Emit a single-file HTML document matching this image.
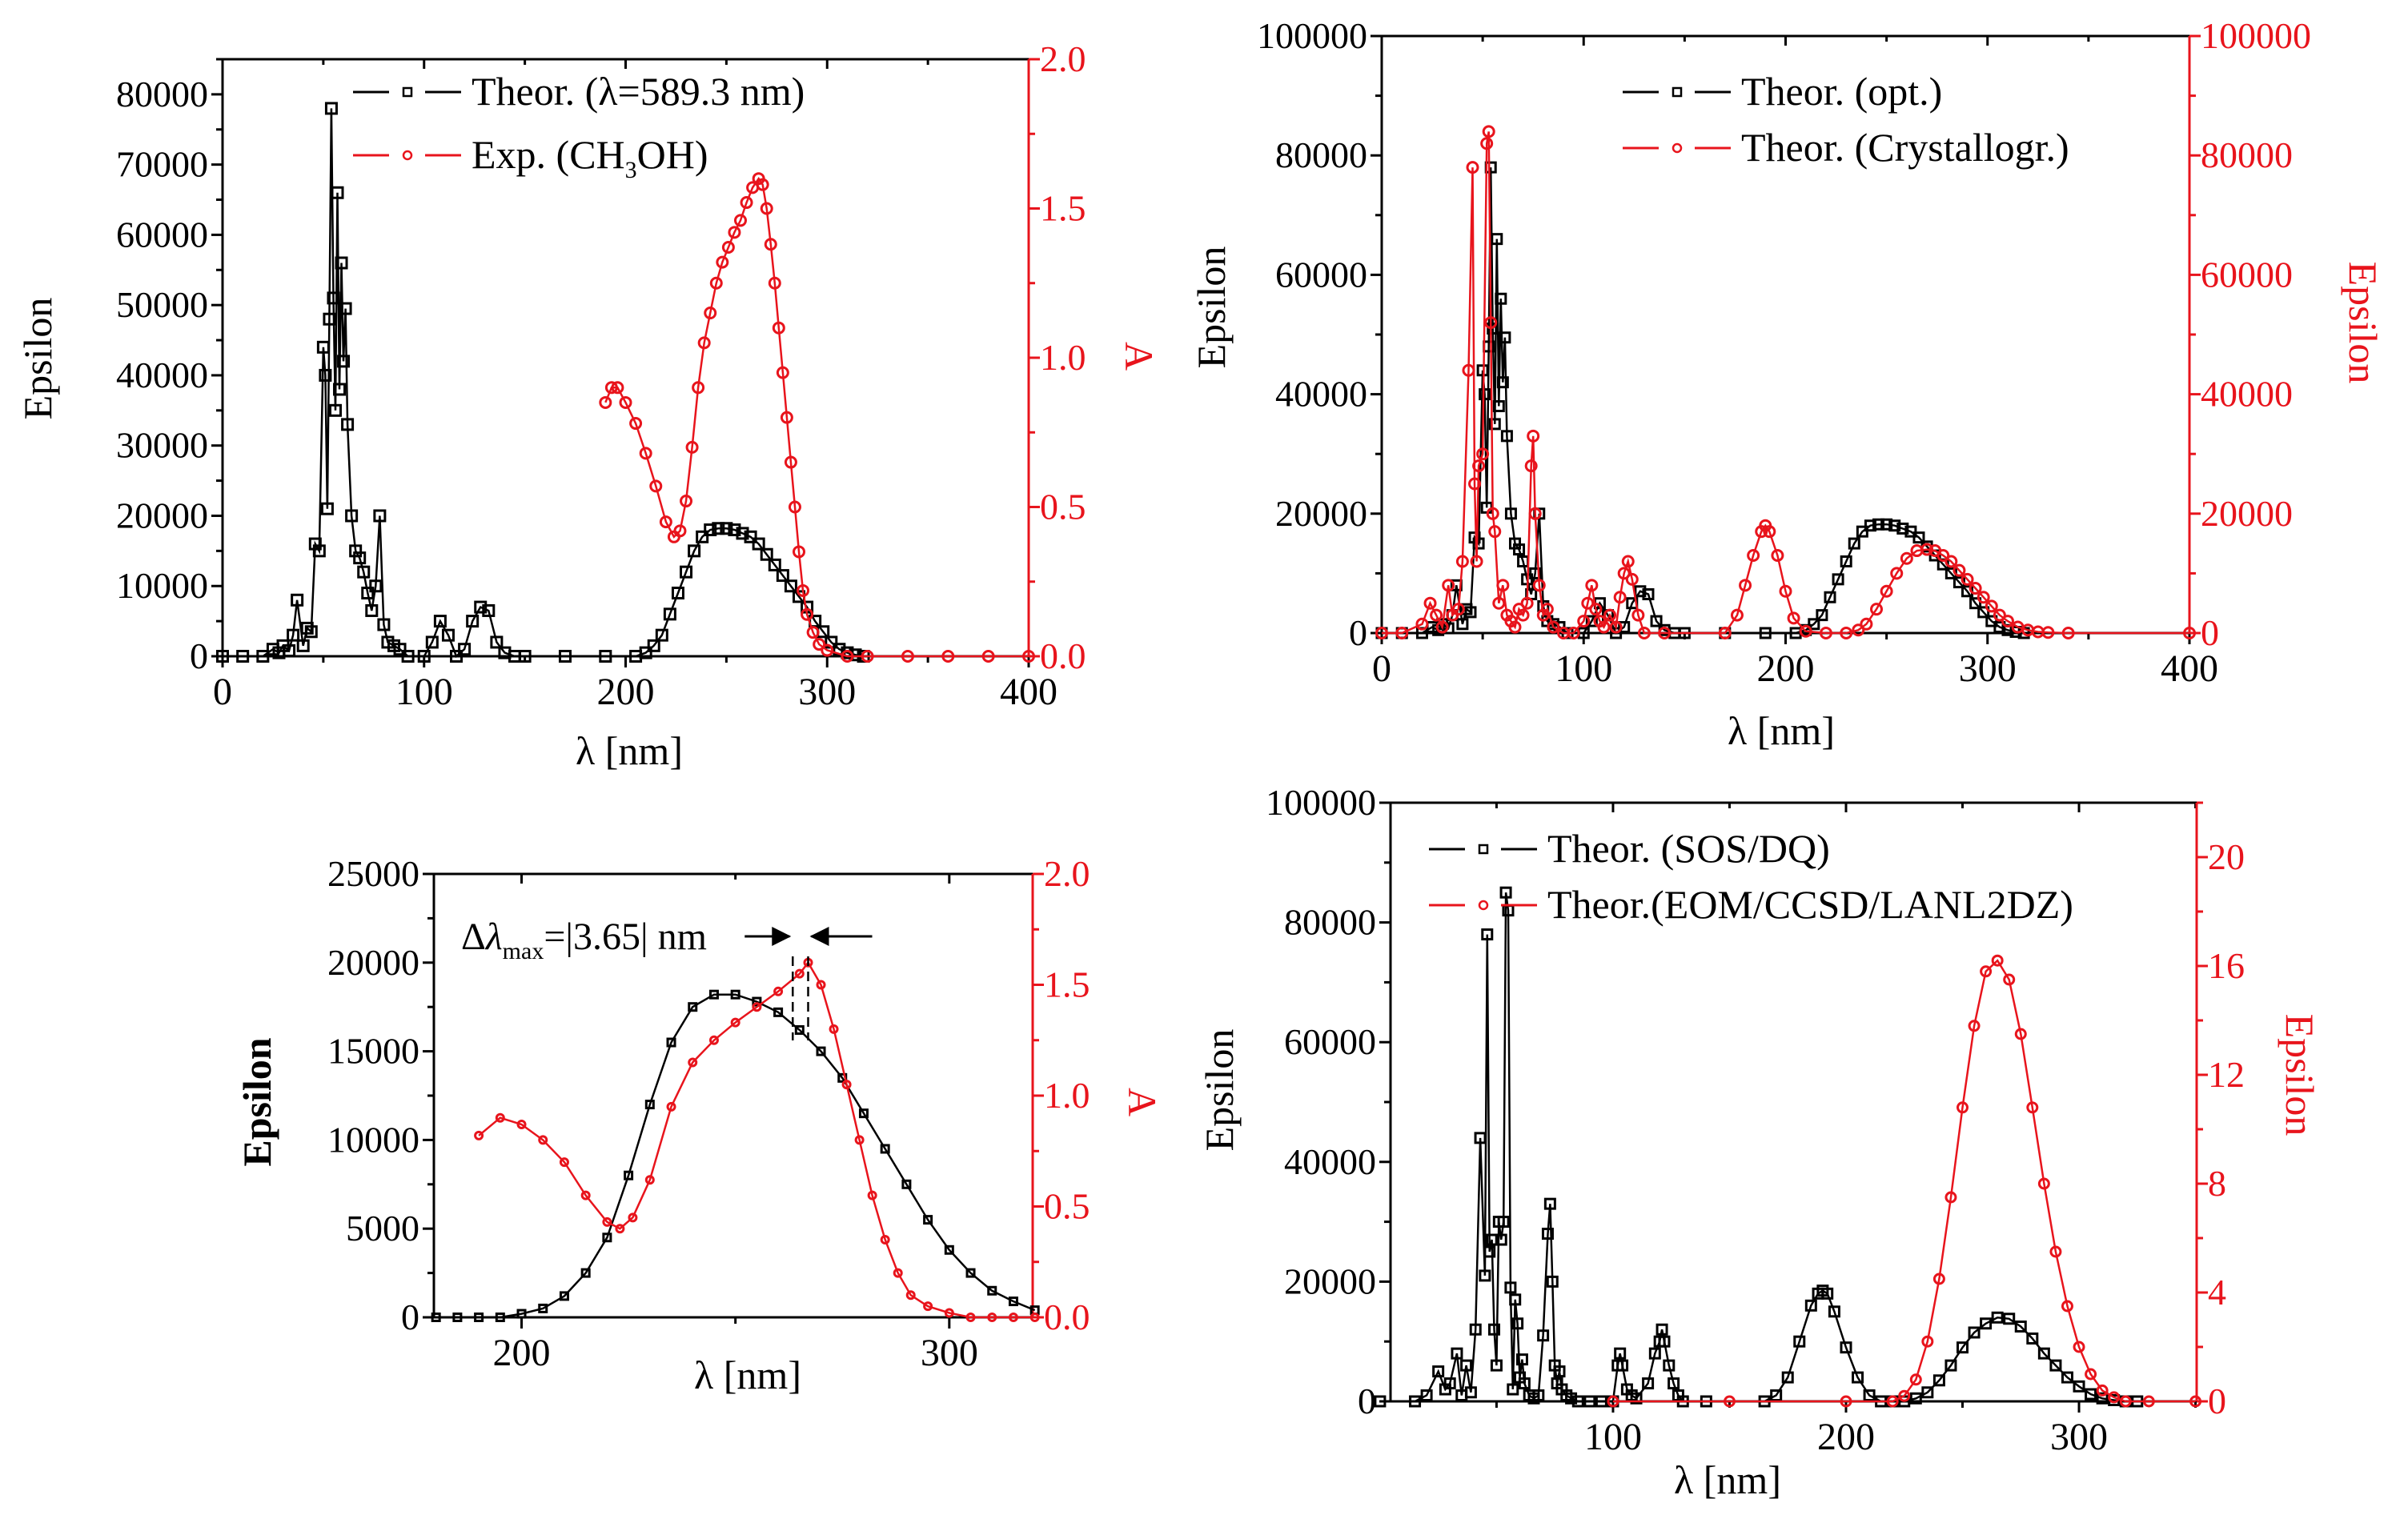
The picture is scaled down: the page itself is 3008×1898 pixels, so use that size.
<!DOCTYPE html>
<html><head><meta charset="utf-8"><style>
html,body{margin:0;padding:0;background:#fff;}
svg{display:block;}
svg text{font-family:"Liberation Serif","DejaVu Serif",serif;}
</style></head><body>
<svg id="fig" xmlns="http://www.w3.org/2000/svg" width="3008" height="1898" viewBox="0 0 3008 1898" font-family="Liberation Serif, serif"></svg>
<script>
// ---------- DATA ----------
const thAWl=[0,10,20,25,28,30,33,35,37,40,42,44,46,48,50,51,52,53,54,55,56,57,58,59,60,61,62,64,66,68,70,72,74,76,78,80,82,85,88,92,100,104,108,112,116,120,124,128,132,136,140,145,150,170,190,205,210,214,218,222,226,230,234,238,242,246,250,254,258,262,266,270,274,278,282,286,290,294,298,302,306,310,314,318];
const thAEps=[0,0,0,1000,500,1500,800,3000,8000,1500,4000,3500,16000,15000,44000,40000,21000,48000,78000,51000,35000,66000,38000,56000,42000,49500,33000,20000,15000,14000,12000,9000,6500,10000,20000,4500,2000,1500,1000,0,0,2000,5000,3000,0,1000,5000,7000,6500,2000,500,0,0,0,0,0,500,1500,3000,6000,9000,12000,15000,17000,18000,18200,18200,18000,17500,17000,16000,14500,13000,11500,10000,8500,7000,5000,3500,2000,1000,500,200,0];
const expAWl=[190,193,196,200,205,210,215,220,224,227,230,233,236,239,242,245,248,251,254,257,260,263,266,268,270,272,274,276,278,280,282,284,286,288,290,293,296,300,310,320,340,360,380,400];
const expAAbs=[0.85,0.9,0.9,0.85,0.78,0.68,0.57,0.45,0.4,0.42,0.52,0.7,0.9,1.05,1.15,1.25,1.32,1.37,1.42,1.46,1.52,1.57,1.6,1.58,1.5,1.38,1.25,1.1,0.95,0.8,0.65,0.5,0.35,0.22,0.14,0.08,0.04,0.02,0,0,0,0,0,0];
const optBWl=thAWl;
const optBEps=thAEps;
const cryBWl=[0,10,20,24,27,30,33,35,38,40,43,45,46,47,48,50,52,53,54,55,56,58,60,62,64,66,68,70,72,74,75,76,78,80,82,85,90,95,100,102,104,106,108,110,113,116,118,120,122,124,127,130,140,170,176,180,184,188,190,192,196,200,204,210,220,230,236,240,245,250,255,260,265,270,274,278,282,286,290,294,298,302,306,310,315,320,325,330,340,400];
const cryBEps=[0,0,1500,5000,3000,1000,8000,3000,4000,12000,44000,78000,25000,12000,28000,30000,82000,84000,52000,20000,17000,5000,8000,3000,2000,1000,4000,3000,5000,28000,33000,20000,8000,3000,4000,1000,0,0,2000,5000,8000,4000,2000,1000,3000,1000,6000,10000,12000,9000,3000,0,0,0,3000,8000,13000,17000,18000,17000,13000,7000,2500,300,0,0,500,1500,4000,7000,10000,12500,13800,14000,13800,13000,12000,10500,9000,7500,6000,4500,3000,2000,1000,500,200,100,0,0];
const thCWl=[180,185,190,195,200,205,210,215,220,225,230,235,240,245,250,255,260,265,270,275,280,285,290,295,300,305,310,315,320];
const thCEps=[0,0,0,0,200,500,1200,2500,4500,8000,12000,15500,17500,18200,18200,17800,17200,16200,15000,13500,11500,9500,7500,5500,3800,2500,1500,900,400];
const expCWl=[190,195,200,205,210,215,220,223,226,230,235,240,245,250,255,260,265,267,270,273,276,279,282,285,288,291,295,300,305,310,315,320];
const expCAbs=[0.82,0.9,0.87,0.8,0.7,0.55,0.43,0.4,0.45,0.62,0.95,1.15,1.25,1.33,1.4,1.47,1.55,1.6,1.5,1.3,1.05,0.8,0.55,0.35,0.2,0.1,0.05,0.02,0,0,0,0];
const sosDWl=[0,15,20,25,28,30,33,35,37,39,41,43,45,46,47,48,49,50,51,52,53,54,55,56,57,58,59,60,61,62,64,66,68,70,72,73,74,75,76,77,78,80,82,85,90,95,100,102,103,104,106,108,110,115,118,120,121,122,124,126,128,130,140,165,170,175,180,185,188,190,192,195,200,205,210,215,220,225,230,235,240,245,250,255,260,265,270,275,280,285,290,295,300,305,310,315,320,325];
const sosDEps=[0,0,1000,5000,2000,3000,8000,1000,6000,1500,12000,44000,21000,78000,25000,27000,12000,6000,30000,27000,30000,85000,82000,19000,2000,17000,13000,4000,7000,3000,1000,500,1000,11000,28000,33000,20000,6000,3000,5000,2000,1000,500,0,0,0,0,6000,8000,6000,2000,1000,500,3000,8000,10000,12000,10000,6000,3000,1000,0,0,0,1000,4000,10000,16000,18000,18500,18000,15000,9000,4000,1000,0,0,0,500,1500,3500,6000,9000,11500,13000,14000,13800,12500,10500,8000,6000,4000,2500,1200,500,200,0,0];
const eomDWl=[100,150,200,220,225,230,235,240,245,250,255,260,265,270,275,280,285,290,295,300,305,310,315,320,330,350];
const eomDEps=[0,0,0,0,0.2,0.8,2.2,4.5,7.5,10.8,13.8,15.8,16.2,15.5,13.5,10.8,8,5.5,3.5,2,1,0.4,0.15,0,0,0];
const ticksX400=[0,100,200,300,400];
const ticksEpsA=[0,10000,20000,30000,40000,50000,60000,70000,80000];
const ticksAbs=[0,0.5,1.0,1.5,2.0];
const ticksEps100k=[0,20000,40000,60000,80000,100000];
const ticksEpsC=[0,5000,10000,15000,20000,25000];
const ticksXC=[200,300];
const ticksXD=[100,200,300];
const ticksEomD=[0,4,8,12,16,20];

// ---------- HELPERS ----------
const NS='http://www.w3.org/2000/svg';
const FF='Liberation Serif, DejaVu Serif, serif';
const svg=document.getElementById('fig');
function mk(tag,attrs,parent){const e=document.createElementNS(NS,tag);for(const k in attrs)e.setAttribute(k,attrs[k]);if(tag==='text')e.setAttribute('font-family',FF);parent.appendChild(e);return e;}
const RED='#e8141c';

function drawPanel(p){
  const g=mk('g',{},svg);
  
  
  const sx=v=>p.L+(v-p.x0)/(p.x1-p.x0)*(p.R-p.L);
  const syl=v=>p.B-(v-p.yl0)/(p.yl1-p.yl0)*(p.B-p.T);
  const syr=v=>p.B-(v-p.yr0)/(p.yr1-p.yr0)*(p.B-p.T);
  p.sx=sx;p.syl=syl;p.syr=syr;
  const xax=mk('g',{},g);
  
  
  for(let v=p.xm0;v<=p.x1+0.01;v+=p.xminor){
    if(v<p.x0-0.01)continue;
    const major=p.xticks.some(t=>Math.abs(t-v)<0.01);
    const X=sx(v);
    mk('line',{x1:X,y1:p.B,x2:X,y2:p.B+(major?14:8),stroke:'#000','stroke-width':3},xax);
    mk('line',{x1:X,y1:p.T,x2:X,y2:p.T+(major?12:7),stroke:'#000','stroke-width':3},xax);
  }
  p.xticks.forEach(v=>{
    const t=mk('text',{x:sx(v),y:p.B+60,'font-size':48,'text-anchor':'middle',fill:'#000'},xax);
    
    
    t.textContent=v;
  });
  const yl=mk('g',{},g);
  
  
  for(let v=p.yl0;v<=p.yl1+1e-6;v+=p.ylminor){
    const major=p.ylticks.some(t=>Math.abs(t-v)<1e-6);
    const Y=syl(v);
    mk('line',{x1:p.L-(major?14:8),y1:Y,x2:p.L,y2:Y,stroke:'#000','stroke-width':3},yl);
  }
  p.ylticks.forEach(v=>{
    const t=mk('text',{x:p.L-18,y:syl(v)+15,'font-size':46,'text-anchor':'end',fill:'#000'},yl);
    
    
    t.textContent=v;
  });
  const yr=mk('g',{},g);
  
  
  for(let v=p.yr0;v<=p.yr1+1e-6;v+=p.yrminor){
    const major=p.yrticks.some(t=>Math.abs(t-v)<1e-6);
    const Y=syr(v);
    mk('line',{x1:p.R,y1:Y,x2:p.R+(major?14:8),y2:Y,stroke:RED,'stroke-width':3},yr);
  }
  p.yrticks.forEach(v=>{
    const t=mk('text',{x:p.R+14,y:syr(v)+15,'font-size':46,'text-anchor':'start',fill:RED},yr);
    
    
    t.textContent=p.rfmt?p.rfmt(v):v;
  });
  mk('line',{x1:p.L,y1:p.T,x2:p.R,y2:p.T,stroke:'#000','stroke-width':3},g);
  mk('line',{x1:p.L,y1:p.B,x2:p.R,y2:p.B,stroke:'#000','stroke-width':3},g);
  mk('line',{x1:p.L,y1:p.T,x2:p.L,y2:p.B,stroke:'#000','stroke-width':3},g);
  mk('line',{x1:p.R,y1:p.T,x2:p.R,y2:p.B,stroke:RED,'stroke-width':3},g);
  return g;
}

function drawSeries(g,p,xs,ys,side,color,shape,size,name){
  const sy=side==='r'?p.syr:p.syl;
  const n=Math.min(xs.length,ys.length);
  const s=mk('g',{},g);
  
  
  let d='';
  for(let i=0;i<n;i++){d+=(i?'L':'M')+p.sx(xs[i]).toFixed(1)+','+sy(ys[i]).toFixed(1);}
  const path=mk('path',{d:d,fill:'none',stroke:color,'stroke-width':2.5},s);
  
  
  for(let i=0;i<n;i++){
    const X=p.sx(xs[i]),Y=sy(ys[i]);
    let m;
    if(shape==='sq') m=mk('rect',{x:X-size/2,y:Y-size/2,width:size,height:size,fill:'none',stroke:color,'stroke-width':3},s);
    else m=mk('circle',{cx:X,cy:Y,r:size/2,fill:'none',stroke:color,'stroke-width':3},s);
    
    
  }
}

function text(g,x,y,str,opts,name){
  const t=mk('text',Object.assign({x:x,y:y,'font-size':50,fill:'#000'},opts||{}),g);
  
  
  t.textContent=str;
  return t;
}
function legend(g,x,y,color,shape,label,name){
  const lg=mk('g',{},g);
  
  
  mk('line',{x1:x,y1:y,x2:x+45,y2:y,stroke:color,'stroke-width':3},lg);
  mk('line',{x1:x+90,y1:y,x2:x+135,y2:y,stroke:color,'stroke-width':3},lg);
  if(shape==='sq') mk('rect',{x:x+63,y:y-5,width:10,height:10,fill:'none',stroke:color,'stroke-width':2.5},lg);
  else mk('circle',{cx:x+68,cy:y,r:5,fill:'none',stroke:color,'stroke-width':2.5},lg);
  const t=mk('text',{x:x+148,y:y+16,'font-size':50,fill:'#000'},lg);
  t.textContent=label;
  return t;
}

// ---------- PANEL A ----------
const pA={name:'panel-a',L:278,R:1285,T:74,B:820,x0:0,x1:400,xm0:0,xminor:50,xticks:ticksX400,
  yl0:0,yl1:85000,ylminor:5000,ylticks:ticksEpsA,yr0:0,yr1:2.0,yrminor:0.25,yrticks:ticksAbs,rfmt:v=>v.toFixed(1)};
const gA=drawPanel(pA);
drawSeries(gA,pA,thAWl,thAEps,'l','#000','sq',13,'theor-589-series');
drawSeries(gA,pA,expAWl,expAAbs,'r',RED,'ci',13,'exp-ch3oh-series');
legend(gA,441,115,'#000','sq','Theor. (λ=589.3 nm)','legend-theor-589');
{const t=legend(gA,441,194,RED,'ci','','legend-exp-ch3oh');
 t.innerHTML='Exp. (CH<tspan font-size="30" dy="12">3</tspan><tspan dy="-12">OH)</tspan>';}
text(gA,786,955,'λ [nm]',{'text-anchor':'middle'},'x-axis-title');
text(gA,0,0,'Epsilon',{'text-anchor':'middle',transform:'translate(64,448) rotate(-90)'},'left-y-axis-title');
text(gA,0,0,'A',{'text-anchor':'middle',fill:RED,transform:'translate(1406,445) rotate(90)'},'right-y-axis-title');

// ---------- PANEL B ----------
const pB={name:'panel-b',L:1726,R:2735,T:45,B:791,x0:0,x1:400,xm0:0,xminor:50,xticks:ticksX400,
  yl0:0,yl1:100000,ylminor:10000,ylticks:ticksEps100k,yr0:0,yr1:100000,yrminor:10000,yrticks:ticksEps100k};
const gB=drawPanel(pB);
drawSeries(gB,pB,optBWl,optBEps,'l','#000','sq',12,'theor-opt-series');
drawSeries(gB,pB,cryBWl,cryBEps,'r',RED,'ci',13,'theor-crystallogr-series');
legend(gB,2027,115,'#000','sq','Theor. (opt.)','legend-theor-opt');
legend(gB,2027,185,RED,'ci','Theor. (Crystallogr.)','legend-theor-crystallogr');
text(gB,2225,930,'λ [nm]',{'text-anchor':'middle'},'x-axis-title');
text(gB,0,0,'Epsilon',{'text-anchor':'middle',transform:'translate(1530,384) rotate(-90)'},'left-y-axis-title');
text(gB,0,0,'Epsilon',{'text-anchor':'middle',fill:RED,transform:'translate(2935,403) rotate(90)'},'right-y-axis-title');

// ---------- PANEL C ----------
const pC={name:'panel-c',L:542,R:1290,T:1092,B:1646,x0:179.5,x1:319.5,xm0:150,xminor:50,xticks:ticksXC,
  yl0:0,yl1:25000,ylminor:2500,ylticks:ticksEpsC,yr0:0,yr1:2.0,yrminor:0.25,yrticks:ticksAbs,rfmt:v=>v.toFixed(1)};
const gC=drawPanel(pC);
drawSeries(gC,pC,thCWl,thCEps,'l','#000','sq',9,'theor-zoom-series');
drawSeries(gC,pC,expCWl,expCAbs,'r',RED,'ci',9,'exp-zoom-series');
{
  const ann=mk('g',{},gC);
  
  
  const xa=pC.sx(263.4),xb=pC.sx(267);
  mk('line',{x1:xa,y1:1195,x2:xa,y2:1300,stroke:'#000','stroke-width':2.5,'stroke-dasharray':'12,7'},ann);
  mk('line',{x1:xb,y1:1195,x2:xb,y2:1300,stroke:'#000','stroke-width':2.5,'stroke-dasharray':'12,7'},ann);
  mk('line',{x1:xa-60,y1:1170,x2:xa-4,y2:1170,stroke:'#000','stroke-width':3},ann);
  mk('path',{d:`M${xa-2},1170 L${xa-26},1158 L${xa-26},1182 Z`,fill:'#000'},ann);
  mk('line',{x1:xb+4,y1:1170,x2:xb+80,y2:1170,stroke:'#000','stroke-width':3},ann);
  mk('path',{d:`M${xb+2},1170 L${xb+26},1158 L${xb+26},1182 Z`,fill:'#000'},ann);
  const t=mk('text',{x:576,y:1186,'font-size':48,fill:'#000'},ann);
  t.innerHTML='Δ<tspan font-style="italic">λ</tspan><tspan font-size="30" dy="12">max</tspan><tspan dy="-12">=|3.65| nm</tspan>';
}
text(gC,934,1735,'λ [nm]',{'text-anchor':'middle'},'x-axis-title');
text(gC,0,0,'Epsilon',{'text-anchor':'middle','font-weight':'bold',transform:'translate(338,1377) rotate(-90)'},'left-y-axis-title');
text(gC,0,0,'A',{'text-anchor':'middle',fill:RED,transform:'translate(1410,1377) rotate(90)'},'right-y-axis-title');

// ---------- PANEL D ----------
const pD={name:'panel-d',L:1737,R:2744,T:1003,B:1751,x0:4.5,x1:350.5,xm0:50,xminor:50,xticks:ticksXD,
  yl0:0,yl1:100000,ylminor:10000,ylticks:ticksEps100k,yr0:0,yr1:22,yrminor:2,yrticks:ticksEomD};
const gD=drawPanel(pD);
drawSeries(gD,pD,sosDWl,sosDEps,'l','#000','sq',12,'theor-sos-dq-series');
drawSeries(gD,pD,eomDWl,eomDEps,'r',RED,'ci',12,'theor-eom-ccsd-series');
legend(gD,1785,1061,'#000','sq','Theor. (SOS/DQ)','legend-theor-sos-dq');
legend(gD,1785,1131,RED,'ci','Theor.(EOM/CCSD/LANL2DZ)','legend-theor-eom-ccsd');
text(gD,2158,1866,'λ [nm]',{'text-anchor':'middle'},'x-axis-title');
text(gD,0,0,'Epsilon',{'text-anchor':'middle',transform:'translate(1540,1362) rotate(-90)'},'left-y-axis-title');
text(gD,0,0,'Epsilon',{'text-anchor':'middle',fill:RED,transform:'translate(2856,1343) rotate(90)'},'right-y-axis-title');
</script>
</body></html>
